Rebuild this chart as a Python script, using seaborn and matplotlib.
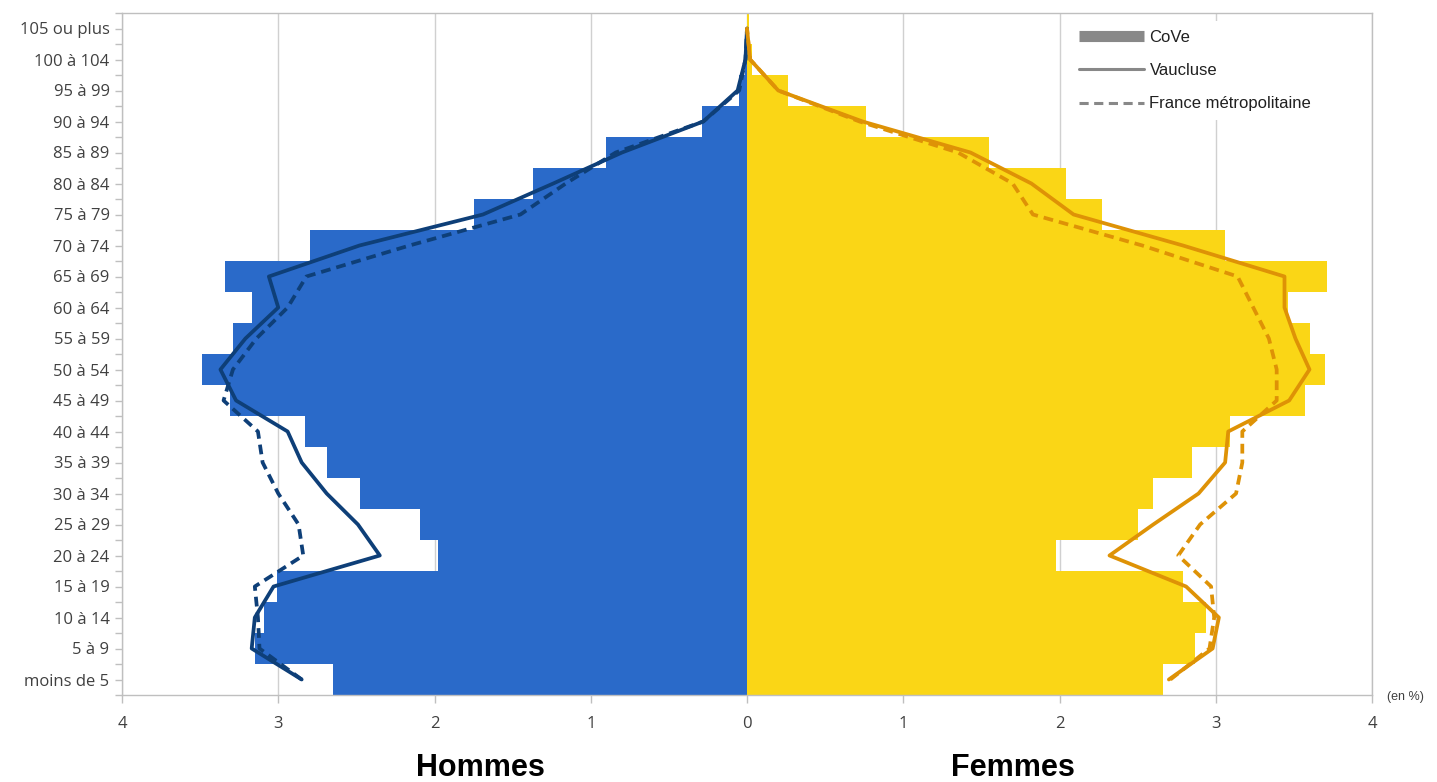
import numpy as np
import pandas as pd
import matplotlib
matplotlib.use("Agg")
import matplotlib.pyplot as plt
from matplotlib.lines import Line2D
from matplotlib.ticker import FixedLocator
import seaborn as sns

ages = ["moins de 5", "5 à 9", "10 à 14", "15 à 19", "20 à 24", "25 à 29",
        "30 à 34", "35 à 39", "40 à 44", "45 à 49", "50 à 54", "55 à 59",
        "60 à 64", "65 à 69", "70 à 74", "75 à 79", "80 à 84", "85 à 89",
        "90 à 94", "95 à 99", "100 à 104", "105 ou plus"]

cove_hommes = [2.65, 3.15, 3.09, 3.01, 1.98, 2.09, 2.48, 2.69, 2.83, 3.31, 3.49,
               3.29, 3.17, 3.34, 2.80, 1.75, 1.37, 0.90, 0.29, 0.05, 0.01, 0.00]
cove_femmes = [2.66, 2.87, 2.94, 2.79, 1.98, 2.50, 2.60, 2.85, 3.09, 3.57, 3.70,
               3.60, 3.46, 3.71, 3.06, 2.27, 2.04, 1.55, 0.76, 0.26, 0.03, 0.01]
vaucluse_hommes = [2.85, 3.17, 3.15, 3.03, 2.35, 2.49, 2.69, 2.85, 2.94, 3.27, 3.37,
                   3.21, 3.00, 3.06, 2.48, 1.69, 1.24, 0.80, 0.28, 0.06, 0.01, 0.00]
france_hommes = [2.85, 3.12, 3.13, 3.15, 2.84, 2.87, 3.00, 3.10, 3.13, 3.35, 3.29,
                 3.14, 2.94, 2.82, 2.16, 1.45, 1.16, 0.84, 0.28, 0.05, 0.01, 0.00]
vaucluse_femmes = [2.70, 2.98, 3.02, 2.81, 2.32, 2.60, 2.89, 3.06, 3.08, 3.47, 3.60,
                   3.51, 3.44, 3.44, 2.79, 2.09, 1.82, 1.43, 0.74, 0.20, 0.02, 0.00]
france_femmes = [2.71, 2.96, 2.99, 2.97, 2.76, 2.90, 3.13, 3.17, 3.17, 3.39, 3.39,
                 3.34, 3.24, 3.14, 2.53, 1.83, 1.70, 1.35, 0.72, 0.20, 0.02, 0.00]

x_ticks = [-4, -3, -2, -1, 0, 1, 2, 3, 4]
x_ticklabels = ["4", "3", "2", "1", "0", "1", "2", "3", "4"]

BLUE = "#2A6AC9"
YELLOW = "#FAD616"
NAVY = "#0E3F78"
ORANGE = "#DE9206"
GRID = "#D0D0D0"
TXT = "#404040"

sns.set_theme(style="white")
plt.rcParams['font.family'] = ['Open Sans', 'DejaVu Sans']

df = pd.DataFrame({
    "age": ages,
    "cove_h": [-v for v in cove_hommes],
    "cove_f": cove_femmes,
    "vauc_h": [-v for v in vaucluse_hommes],
    "fr_h": [-v for v in france_hommes],
    "vauc_f": vaucluse_femmes,
    "fr_f": france_femmes,
})
order = ages[::-1]
df["pos"] = [order.index(a) for a in df["age"]]

fig = plt.figure(figsize=(14.37, 7.82), dpi=100)
ax = fig.add_axes([122 / 1437, 87 / 782, 1250 / 1437, 682 / 782])

# gridlines
ax.set_xticks(x_ticks)
ax.xaxis.grid(True, color=GRID, linewidth=1.0)
ax.yaxis.grid(False)
ax.set_axisbelow(True)

sns.barplot(data=df, x="cove_h", y="age", order=order, orient="h", width=1.0,
            color=BLUE, saturation=1, linewidth=0, ax=ax)
sns.barplot(data=df, x="cove_f", y="age", order=order, orient="h", width=1.0,
            color=YELLOW, saturation=1, linewidth=0, ax=ax)

lw = 2.7
dash = (0, (2.6, 1.6))
sns.lineplot(data=df, x="vauc_h", y="pos", sort=False, orient="y", estimator=None,
             color=NAVY, linewidth=lw, ax=ax)
sns.lineplot(data=df, x="fr_h", y="pos", sort=False, orient="y", estimator=None,
             color=NAVY, linewidth=lw, linestyle=dash, ax=ax)
sns.lineplot(data=df, x="vauc_f", y="pos", sort=False, orient="y", estimator=None,
             color=ORANGE, linewidth=lw, ax=ax)
sns.lineplot(data=df, x="fr_f", y="pos", sort=False, orient="y", estimator=None,
             color=ORANGE, linewidth=lw, linestyle=dash, ax=ax)

ax.set_xlim(-4, 4)
ax.set_ylim(len(ages) - 0.5, -0.5)
ax.set_xticks(x_ticks)
ax.set_xticklabels(x_ticklabels)
ax.set_yticks(range(len(order)))
ax.set_yticklabels(order)
ax.yaxis.set_minor_locator(FixedLocator(np.arange(-0.5, len(order), 1.0)))
ax.set_xlabel("")
ax.set_ylabel("")

for s in ax.spines.values():
    s.set_visible(True)
    s.set_color("#BFBFBF")
    s.set_linewidth(1.0)

ax.tick_params(axis="y", which="both", left=True, length=5, width=1, color="#BFBFBF",
               labelsize=12, labelcolor=TXT, pad=4)
ax.tick_params(axis="x", which="major", bottom=True, length=6, width=1, color="#BFBFBF",
               labelsize=12, labelcolor=TXT, pad=9)

handles = [
    Line2D([0], [0], color="#888888", linewidth=8, solid_capstyle="butt"),
    Line2D([0], [0], color="#888888", linewidth=2.2),
    Line2D([0], [0], color="#888888", linewidth=2.2, linestyle=(0, (3, 1.8))),
]
leg = ax.legend(handles, ["CoVe", "Vaucluse", "France métropolitaine"],
                loc="upper left", bbox_to_anchor=(940 / 1250, 1.0),
                frameon=True, fancybox=False, framealpha=1, facecolor="white",
                edgecolor="none", handlelength=3.9, handletextpad=0.35,
                labelspacing=1.1, borderpad=0.5,
                prop={"family": "Liberation Sans", "size": 12})
for t in leg.get_texts():
    t.set_color("#202020")

fig.text(1405 / 1437, 1 - 697 / 782, "(en %)", ha="center", va="center",
         fontsize=9, family="Liberation Sans", color=TXT)
fig.text(480 / 1437, 1 - 768 / 782, "Hommes", ha="center", va="center",
         fontsize=22, fontweight="bold", family="Liberation Sans", color="black")
fig.text(1013 / 1437, 1 - 768 / 782, "Femmes", ha="center", va="center",
         fontsize=22, fontweight="bold", family="Liberation Sans", color="black")

fig.savefig("out.png", dpi=100)
